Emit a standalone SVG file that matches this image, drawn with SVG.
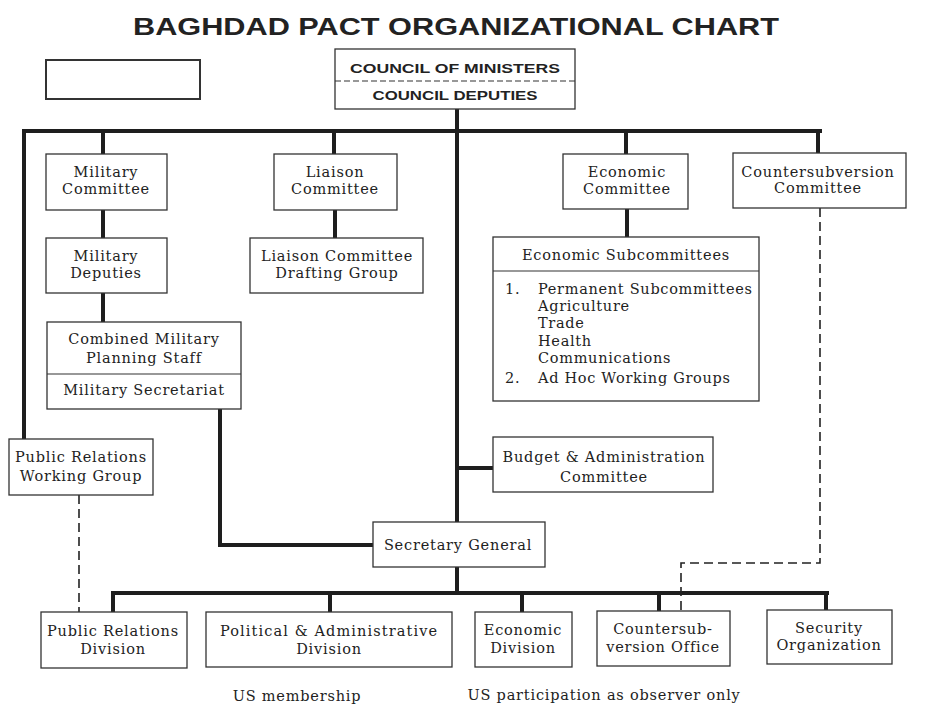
<svg xmlns="http://www.w3.org/2000/svg" width="929" height="705" viewBox="0 0 929 705">
<style>
.box{fill:#fff;stroke:#333;stroke-width:1.3}
.div{stroke:#333;stroke-width:1.2;fill:none}
.t{font-family:"DejaVu Serif","Liberation Serif",serif;font-size:14.5px;fill:#222;text-anchor:middle;letter-spacing:0.8px}
.tl{font-family:"DejaVu Serif","Liberation Serif",serif;font-size:14.5px;fill:#222;letter-spacing:0.7px}
.cap{font-family:"Liberation Sans",Arial,sans-serif;font-weight:bold;font-size:13px;fill:#222;text-anchor:middle}
.title{font-family:"Liberation Sans",Arial,sans-serif;font-weight:bold;font-size:24px;fill:#222}
.solid{stroke:#1e1e1e;stroke-width:4;fill:none;stroke-linecap:square}
.dash{stroke:#222;stroke-width:1.6;fill:none;stroke-dasharray:9,5}
</style>
<rect width="929" height="705" fill="#fff"/>
<text class="title" x="133" y="35" textLength="646" lengthAdjust="spacingAndGlyphs">BAGHDAD PACT ORGANIZATIONAL CHART</text>

<g id="connectors">
<path class="solid" d="M457 109 V522"/>
<path class="solid" d="M24 131 H820"/>
<path class="solid" d="M24 131 V439"/>
<path class="solid" d="M103 131 V154 M103 210 V238 M103 293 V322"/>
<path class="solid" d="M334 131 V154 M335 210 V238"/>
<path class="solid" d="M626 131 V154 M627 209 V237"/>
<path class="solid" d="M818 131 V153"/>
<path class="solid" d="M220 409 V545 H373"/>
<path class="solid" d="M457 468 H493"/>
<path class="solid" d="M457 567 V593"/>
<path class="solid" d="M113 593 H827"/>
<path class="solid" d="M113 593 V612 M330 593 V612 M522 593 V612 M659 593 V611 M826 593 V610"/>
<path class="dash" d="M79 495 V612"/>
<path class="dash" d="M820 208 V563 H681 V611"/>
</g>

<g id="legend-box"><rect x="46" y="60" width="154" height="39" fill="#fff" stroke="#333" stroke-width="2"/></g>

<g id="council">
<rect class="box" x="335" y="49" width="240" height="60"/>
<line x1="335" y1="81" x2="575" y2="81" stroke="#333" stroke-width="1.2" stroke-dasharray="6,3"/>
<text class="cap" x="455" y="73" textLength="210" lengthAdjust="spacingAndGlyphs">COUNCIL OF MINISTERS</text>
<text class="cap" x="455" y="100" textLength="165" lengthAdjust="spacingAndGlyphs">COUNCIL DEPUTIES</text>
</g>

<g id="military-committee">
<rect class="box" x="46" y="154" width="121" height="56"/>
<text class="t" x="106" y="177">Military</text>
<text class="t" x="106" y="194">Committee</text>
</g>
<g id="military-deputies">
<rect class="box" x="46" y="238" width="121" height="55"/>
<text class="t" x="106" y="261">Military</text>
<text class="t" x="106" y="278">Deputies</text>
</g>
<g id="cmps">
<rect class="box" x="47" y="322" width="194" height="87"/>
<line class="div" x1="47" y1="374" x2="241" y2="374"/>
<text class="t" x="144" y="344">Combined Military</text>
<text class="t" x="144" y="363">Planning Staff</text>
<text class="t" x="144" y="395">Military Secretariat</text>
</g>
<g id="liaison-committee">
<rect class="box" x="274" y="154" width="123" height="56"/>
<text class="t" x="335" y="177">Liaison</text>
<text class="t" x="335" y="194">Committee</text>
</g>
<g id="liaison-drafting">
<rect class="box" x="250" y="238" width="173" height="55"/>
<text class="t" x="337" y="261">Liaison Committee</text>
<text class="t" x="337" y="278">Drafting Group</text>
</g>
<g id="economic-committee">
<rect class="box" x="563" y="154" width="125" height="55"/>
<text class="t" x="627" y="177">Economic</text>
<text class="t" x="627" y="194">Committee</text>
</g>
<g id="countersubversion-committee">
<rect class="box" x="733" y="153" width="173" height="55"/>
<text class="t" x="818" y="177">Countersubversion</text>
<text class="t" x="818" y="193">Committee</text>
</g>
<g id="economic-subcommittees">
<rect class="box" x="493" y="237" width="266" height="164"/>
<line class="div" x1="493" y1="271" x2="759" y2="271"/>
<text class="t" x="626" y="260">Economic Subcommittees</text>
<text class="tl" x="505" y="294">1.</text>
<text class="tl" x="538" y="294">Permanent Subcommittees</text>
<text class="tl" x="538" y="311">Agriculture</text>
<text class="tl" x="538" y="328">Trade</text>
<text class="tl" x="538" y="346">Health</text>
<text class="tl" x="538" y="363">Communications</text>
<text class="tl" x="505" y="383">2.</text>
<text class="tl" x="538" y="383">Ad Hoc Working Groups</text>
</g>
<g id="pr-working-group">
<rect class="box" x="9" y="439" width="144" height="56"/>
<text class="t" x="81" y="462">Public Relations</text>
<text class="t" x="81" y="481">Working Group</text>
</g>
<g id="budget">
<rect class="box" x="493" y="437" width="220" height="55"/>
<text class="t" x="604" y="462">Budget &amp; Administration</text>
<text class="t" x="604" y="482">Committee</text>
</g>
<g id="secretary-general">
<rect class="box" x="373" y="522" width="172" height="45"/>
<text class="t" x="458" y="550">Secretary General</text>
</g>
<g id="pr-division">
<rect class="box" x="41" y="612" width="146" height="56"/>
<text class="t" x="113" y="636">Public Relations</text>
<text class="t" x="113" y="654">Division</text>
</g>
<g id="political-division">
<rect class="box" x="206" y="612" width="246" height="55"/>
<text class="t" x="329" y="636" textLength="218">Political &amp; Administrative</text>
<text class="t" x="329" y="654">Division</text>
</g>
<g id="economic-division">
<rect class="box" x="475" y="612" width="97" height="55"/>
<text class="t" x="523" y="635">Economic</text>
<text class="t" x="523" y="653">Division</text>
</g>
<g id="countersubversion-office">
<rect class="box" x="597" y="611" width="133" height="55"/>
<text class="t" x="663" y="634">Countersub-</text>
<text class="t" x="663" y="652">version Office</text>
</g>
<g id="security">
<rect class="box" x="767" y="610" width="125" height="54"/>
<text class="t" x="829" y="633">Security</text>
<text class="t" x="829" y="650">Organization</text>
</g>
<g id="notes">
<text class="t" x="297" y="701">US membership</text>
<text class="t" x="604" y="700">US participation as observer only</text>
</g>
</svg>
